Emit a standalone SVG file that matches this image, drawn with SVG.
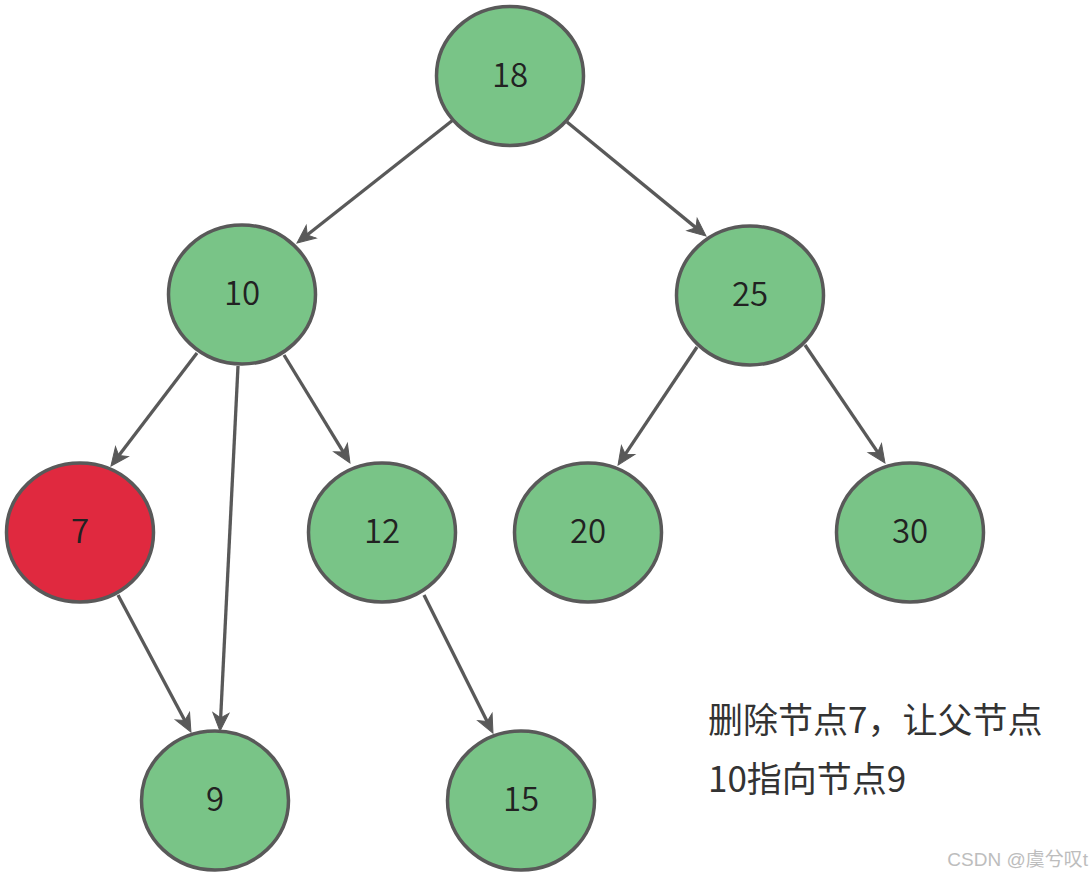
<svg xmlns="http://www.w3.org/2000/svg" width="1090" height="877" viewBox="0 0 1090 877">
<style>
.node ellipse{stroke:#595959;stroke-width:3.5}
.g{fill:#79C487}
.r{fill:#E0293F}
.node text{font-family:"Noto Sans CJK SC","Noto Sans",sans-serif;font-size:33px;font-weight:350;fill:#222;text-anchor:middle}
.edges line{stroke:#595959;stroke-width:3.3;fill:none}
.note{font-family:"Noto Sans CJK SC",sans-serif;font-size:35px;fill:#333}
.wm{font-family:"Liberation Sans","Noto Sans CJK SC",sans-serif;font-size:19px;fill:#bdbdbd;text-anchor:end}
</style>
<defs>
<marker id="arr" markerUnits="userSpaceOnUse" viewBox="-12 -10 24 20" markerWidth="24" markerHeight="20" refX="0" refY="0" orient="auto">
<path d="M8,0 L-10,-8 L-5,0 L-10,8 Z" fill="#595959" stroke="#595959" stroke-width="1" stroke-linejoin="miter"/>
</marker>
</defs>
<rect width="1090" height="877" fill="#ffffff"/>
<g id="edges" class="edges">
<line x1="453" y1="120" x2="303.3" y2="238" marker-end="url(#arr)"/>
<line x1="567" y1="122" x2="699.8" y2="230.9" marker-end="url(#arr)"/>
<line x1="197" y1="353" x2="115.8" y2="459.6" marker-end="url(#arr)"/>
<line x1="238" y1="366" x2="220.4" y2="723" marker-end="url(#arr)"/>
<line x1="284" y1="355" x2="345.8" y2="456.2" marker-end="url(#arr)"/>
<line x1="697" y1="347" x2="622.5" y2="458.4" marker-end="url(#arr)"/>
<line x1="805" y1="345" x2="880.5" y2="456.4" marker-end="url(#arr)"/>
<line x1="118" y1="595" x2="187.2" y2="725" marker-end="url(#arr)"/>
<line x1="424" y1="595" x2="489.4" y2="725.9" marker-end="url(#arr)"/>
</g>
<g id="n18" class="node"><ellipse class="g" cx="510" cy="76" rx="73.5" ry="69.5"/><text x="510" y="86.5">18</text></g>
<g id="n10" class="node"><ellipse class="g" cx="242" cy="294.5" rx="73.5" ry="69.5"/><text x="242" y="305">10</text></g>
<g id="n25" class="node"><ellipse class="g" cx="750" cy="295.5" rx="73.5" ry="69.5"/><text x="750" y="306">25</text></g>
<g id="n7" class="node"><ellipse class="r" cx="80" cy="532.5" rx="73.5" ry="69.5"/><text x="80" y="543">7</text></g>
<g id="n12" class="node"><ellipse class="g" cx="382" cy="532.5" rx="73.5" ry="69.5"/><text x="382" y="543">12</text></g>
<g id="n20" class="node"><ellipse class="g" cx="588" cy="532.5" rx="73.5" ry="69.5"/><text x="588" y="543">20</text></g>
<g id="n30" class="node"><ellipse class="g" cx="910" cy="532.5" rx="73.5" ry="69.5"/><text x="910" y="543">30</text></g>
<g id="n9" class="node"><ellipse class="g" cx="215" cy="800.5" rx="73.5" ry="69.5"/><text x="215" y="811">9</text></g>
<g id="n15" class="node"><ellipse class="g" cx="521" cy="800.5" rx="73.5" ry="69.5"/><text x="521" y="811">15</text></g>
<g id="note">
<text class="note" x="708" y="733">删除节点7，让父节点</text>
<text class="note" x="708" y="792">10指向节点9</text>
</g>
<text class="wm" x="1088" y="866">CSDN @虞兮叹t</text>
</svg>
